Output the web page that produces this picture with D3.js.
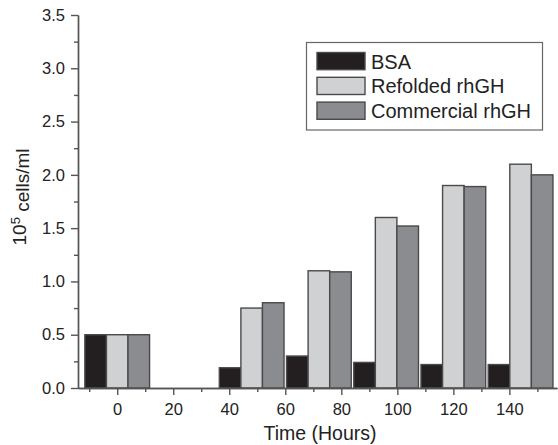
<!DOCTYPE html>
<html>
<head>
<meta charset="utf-8">
<script src="https://cdn.jsdelivr.net/npm/d3@7"></script>
<style>
  body { margin: 0; background: #fff; }
  svg { font-family: "Liberation Sans", Arial, sans-serif; }
</style>
</head>
<body>
<div id="chart"></div>
<script>
// data
const times = [0, 48, 72, 96, 120, 144];
const bsa = [0.5, 0.19, 0.30, 0.24, 0.22, 0.22];
const refolded = [0.5, 0.75, 1.10, 1.60, 1.90, 2.10];
const commercial = [0.5, 0.80, 1.09, 1.52, 1.89, 2.00];
const seriesNames = ["BSA", "Refolded rhGH", "Commercial rhGH"];
const xTicks = [0, 20, 40, 60, 80, 100, 120, 140];
const xMinorTicks = [-10, 10, 30, 50, 70, 90, 110, 130, 150];
const yTicks = [0, 0.5, 1.0, 1.5, 2.0, 2.5, 3.0, 3.5];
const yMinorTicks = [0.25, 0.75, 1.25, 1.75, 2.25, 2.75, 3.25];

const width = 558, height = 445;
const colors = ["#231f20", "#d0d1d3", "#8b8c8f"];
const barHours = 7.7; // width of one bar in hours

//set up SVG
let svg = d3.select("#chart")
            .append("svg")
            .attr("width", width)
            .attr("height", height);

//scales
let x = d3.scaleLinear().domain([-14, 157]).range([78, 557]);
let y = d3.scaleLinear().domain([0, 3.5]).range([388, 15]);

//bars
let series = [bsa, refolded, commercial];
series.forEach(function(vals, s) {
  svg.append("g")
     .selectAll("rect")
     .data(vals)
     .enter()
     .append("rect")
     .attr("x", function(d, i) { return x(times[i] + (s - 1.5) * barHours); })
     .attr("width", x(barHours) - x(0))
     .attr("y", function(d) { return y(d); })
     .attr("height", function(d) { return y(0) - y(d); })
     .style("fill", colors[s])
     .style("stroke", "#4a4a4a")
     .style("stroke-width", 1.4);
});

//axes
function styleAxis(g) {
  g.select(".domain").attr("stroke", "#555").attr("stroke-width", 1.4);
  g.selectAll(".tick line").attr("stroke", "#555").attr("stroke-width", 1.4);
  g.selectAll(".tick text").style("font-size", "16.5px").attr("fill", "#222");
}

svg.append("g")
   .attr("transform", "translate(0,388)")
   .call(d3.axisBottom(x).tickValues(xMinorTicks).tickSize(4).tickFormat("").tickSizeOuter(0))
   .call(styleAxis);
svg.append("g")
   .attr("transform", "translate(0,388)")
   .call(d3.axisBottom(x).tickValues(xTicks).tickSize(7).tickPadding(8).tickSizeOuter(0))
   .call(styleAxis);

svg.append("g")
   .attr("transform", "translate(78,0)")
   .call(d3.axisLeft(y).tickValues(yMinorTicks).tickSize(4).tickFormat("").tickSizeOuter(0))
   .call(styleAxis);
svg.append("g")
   .attr("transform", "translate(78,0)")
   .call(d3.axisLeft(y).tickValues(yTicks).tickSize(7).tickPadding(6).tickFormat(d3.format(".1f")).tickSizeOuter(0))
   .call(styleAxis);

//axis titles
svg.append("text")
   .attr("x", 320)
   .attr("y", 440)
   .style("text-anchor", "middle")
   .style("font-size", "19.5px")
   .attr("fill", "#222")
   .text("Time (Hours)");

let ylab = svg.append("text")
   .attr("transform", "translate(26,197) rotate(-90)")
   .style("text-anchor", "middle")
   .style("font-size", "19px")
   .attr("fill", "#222");
ylab.append("tspan").text("10");
ylab.append("tspan").attr("dy", "-0.45em").style("font-size", "13px").text("5");
ylab.append("tspan").attr("dy", "0.45em").text(" cells/ml");

//legend
let legend = svg.append("g");
legend.append("rect")
      .attr("x", 306.5).attr("y", 42.5)
      .attr("width", 236).attr("height", 87.5)
      .style("fill", "#fff")
      .style("stroke", "#666")
      .style("stroke-width", 1.2);
seriesNames.forEach(function(name, i) {
  legend.append("rect")
        .attr("x", 317).attr("y", 52.5 + i * 24.8)
        .attr("width", 48).attr("height", 17.2)
        .style("fill", colors[i])
        .style("stroke", "#4a4a4a")
        .style("stroke-width", 1.4);
  legend.append("text")
        .attr("x", 371).attr("y", 68.5 + i * 24.8)
        .style("font-size", "20px")
        .attr("fill", "#222")
        .text(name);
});
</script>
</body>
</html>
